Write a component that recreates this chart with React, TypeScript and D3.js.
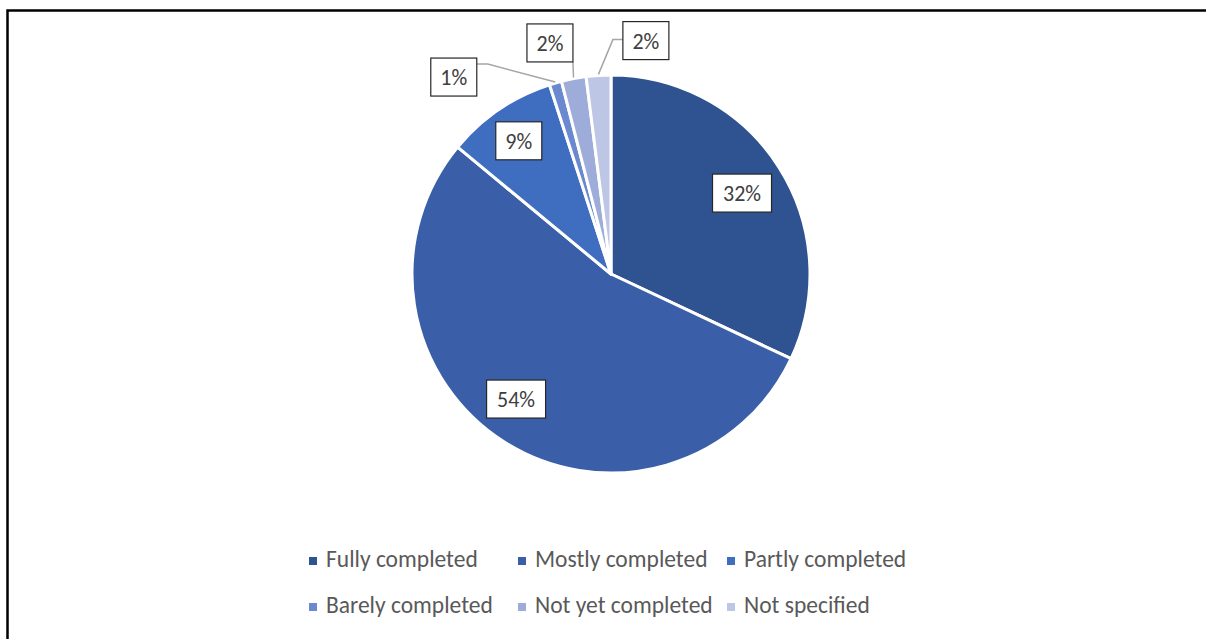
import React from "react";
import * as d3 from "d3";

const categories = ["Fully completed", "Mostly completed", "Partly completed", "Barely completed", "Not yet completed", "Not specified"];
const values = [32, 54, 9, 1, 2, 2];
const labels = ["32%", "54%", "9%", "1%", "2%", "2%"];
const colors = ["#2F5290", "#3A5FA8", "#3F6DC0", "#6A89CF", "#9DACD9", "#BDC7E5"];

const W = 1206, H = 639;
const cx = 611, cy = 274, R = 199;
const FONT = "Carlito, Calibri, Lato, 'Open Sans', sans-serif";

// label placement (best-fit): [angle deg clockwise from top, distance from centre]
const labelPlace: [number, number][] = [
  [58.3, 154],
  [217.2, 157],
  [325.3, 162],
  [321.4, 252],
  [345.2, 239],
  [8.5, 236],
];
const leaderKind: (string | null)[] = [null, null, null, "left", "down", "right"];

function polar(aDeg: number, r: number): [number, number] {
  const a = (aDeg * Math.PI) / 180;
  return [cx + r * Math.sin(a), cy - r * Math.cos(a)];
}

export default function App() {
  const pie = d3.pie<number>().sort(null).value((d) => d)(values);
  const arc = d3.arc<d3.PieArcDatum<number>>().innerRadius(0).outerRadius(R);
  const boxH = 38;
  const boxW = (t: string) => (t.length === 2 ? 46 : 59);

  return (
    <svg width={W} height={H} style={{ position: "absolute", left: 0, top: 0, background: "#fff" }}>
      <rect x={0} y={0} width={W} height={H} fill="#fff" />
      <path d={`M7.5,${H} V10.5 H${W}`} fill="none" stroke="#000" strokeWidth={2.5} />
      <g transform={`translate(${cx},${cy})`}>
        {pie.map((p, i) => (
          <path key={i} d={arc(p) || ""} fill={colors[i]} stroke="#fff" strokeWidth={3} strokeLinejoin="round" />
        ))}
      </g>
      {pie.map((p, i) => {
        const mid = ((p.startAngle + p.endAngle) / 2) * 180 / Math.PI;
        const t = labels[i];
        const bw = boxW(t);
        const [x, y] = polar(labelPlace[i][0], labelPlace[i][1]);
        const kind = leaderKind[i];
        let pts: [number, number][] = [];
        if (kind) {
          const [ex, ey] = polar(mid, R + 1);
          if (kind === "left") {
            const bx = x + bw / 2;
            pts = [[ex, ey], [bx + 11, y - 13], [bx, y - 13]];
          } else if (kind === "down") {
            pts = [[ex, ey], [x + bw / 2, y + boxH / 2]];
          } else {
            const bx = x - bw / 2;
            pts = [[ex, ey], [bx - 10, y - 1], [bx, y - 1]];
          }
        }
        return (
          <g key={i}>
            {kind && (
              <polyline points={pts.map((q) => q.join(",")).join(" ")} fill="none" stroke="#A6A6A6" strokeWidth={1.5} />
            )}
            <rect x={x - bw / 2} y={y - boxH / 2} width={bw} height={boxH} fill="#fff" stroke="#262626" strokeWidth={1.2} />
            <text x={x} y={y + 8} textAnchor="middle" fontFamily={FONT} fontSize={22} fill="#404040">{t}</text>
          </g>
        );
      })}
      {categories.map((c, i) => {
        const col = i % 3;
        const row = Math.floor(i / 3);
        const lx = [309, 518, 727][col];
        const base = [567, 613][row];
        return (
          <g key={c}>
            <rect x={lx} y={base - 10} width={8} height={8} fill={colors[i]} />
            <text x={lx + 17} y={base} fontFamily={FONT} fontSize={23.5} fill="#595959">{c}</text>
          </g>
        );
      })}
    </svg>
  );
}
